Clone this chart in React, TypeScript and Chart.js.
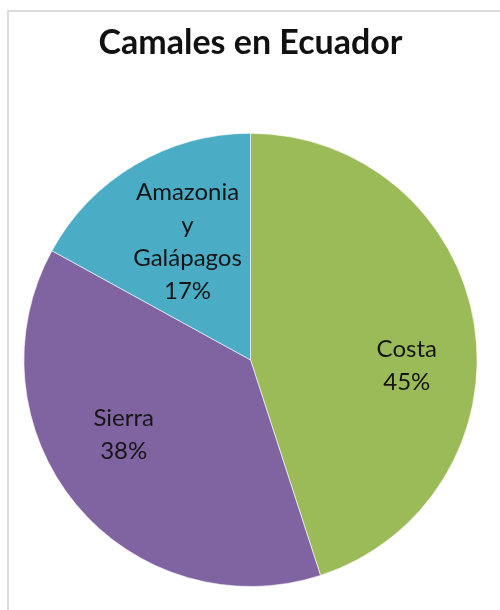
import React, { useEffect, useRef } from "react";
import { Chart, registerables } from "chart.js";

Chart.register(...registerables);

const chartTitle = "Camales en Ecuador";
const categories = ["Costa", "Sierra", "Amazonia y Galápagos"];
const shares = [45, 38, 17];
const sliceColors = ["#9BBB59", "#8064A2", "#4BACC6"];

// label placement tweak (angle shift in degrees, radius fraction) per slice
const labelPlacement = [
  { shift: 11, frac: 0.69 },
  { shift: 9, frac: 0.65 },
  { shift: 2.5, frac: 0.59 },
];

const labelFont = "24px Lato, 'Open Sans', sans-serif";
const labelLineHeight = 33;

const sliceLabels = {
  id: "sliceLabels",
  afterDatasetsDraw(chart: any) {
    const ctx = chart.ctx;
    const meta = chart.getDatasetMeta(0);
    const data = chart.data.datasets[0].data as number[];
    const total = data.reduce((a, b) => a + b, 0);
    ctx.save();
    ctx.font = labelFont;
    ctx.fillStyle = "#161616";
    ctx.textAlign = "center";
    ctx.textBaseline = "middle";
    meta.data.forEach((arc: any, i: number) => {
      const p = arc.getProps(["x", "y", "startAngle", "endAngle", "outerRadius"], true);
      const pl = labelPlacement[i];
      const mid = (p.startAngle + p.endAngle) / 2 + (pl.shift * Math.PI) / 180;
      const r = p.outerRadius * pl.frac;
      const cx = p.x + Math.cos(mid) * r;
      const cy = p.y + Math.sin(mid) * r;
      const lines = String(chart.data.labels[i]).split(" ");
      lines.push(Math.round((data[i] / total) * 100) + "%");
      const h = (lines.length - 1) * labelLineHeight;
      lines.forEach((ln: string, k: number) => {
        ctx.fillText(ln, cx, cy - h / 2 + k * labelLineHeight);
      });
    });
    ctx.restore();
  },
};

export default function App() {
  const ref = useRef<HTMLCanvasElement | null>(null);
  useEffect(() => {
    document.body.style.margin = "0";
    document.body.style.overflow = "hidden";
    if (!ref.current) return;
    const chart = new Chart(ref.current, {
      type: "pie",
      data: {
        labels: categories,
        datasets: [
          {
            data: shares,
            backgroundColor: sliceColors,
            borderColor: "rgba(255,255,255,0.6)",
            borderWidth: 1,
          },
        ],
      },
      options: {
        animation: false,
        responsive: false,
        rotation: 0,
        layout: { padding: { left: 23, right: 22, bottom: 23, top: 0 } },
        plugins: {
          legend: { display: false },
          tooltip: { enabled: false },
          title: {
            display: true,
            text: chartTitle,
            color: "#111111",
            font: { family: "Lato, 'Open Sans', sans-serif", size: 34, weight: "bold" },
            padding: { top: 23, bottom: 69 },
          },
        },
      },
      plugins: [sliceLabels],
    });
    return () => chart.destroy();
  }, []);
  return (
    <div style={{ position: "relative", width: 500, height: 610, overflow: "hidden", background: "#fff" }}>
      <div
        style={{
          position: "absolute",
          left: 7,
          top: 10,
          width: 520,
          height: 640,
          border: "2px solid #dcdcdc",
        }}
      />
      <canvas ref={ref} width={500} height={610} style={{ position: "absolute", left: 0, top: 0 }} />
    </div>
  );
}
